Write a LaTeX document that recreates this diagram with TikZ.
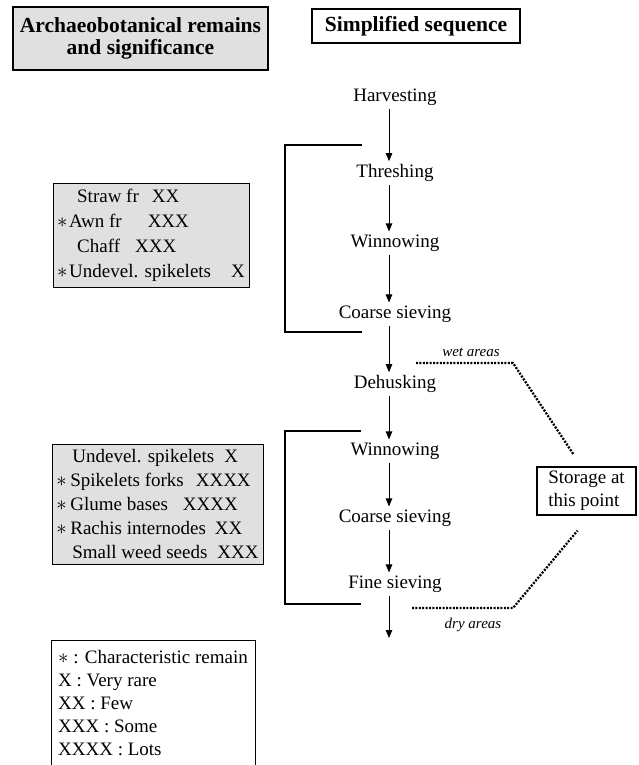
\documentclass[tikz,border=0pt]{standalone}
\usepackage{fontspec}
\setmainfont{Liberation Serif}
\usetikzlibrary{arrows.meta}
\newcommand{\remstar}{{\fontsize{21}{21}\selectfont$\ast$}}
\begin{document}
\begin{tikzpicture}[x=1pt,y=-1pt,
        headbox/.style={draw,line width=1.2pt,font=\bfseries\fontsize{21.5}{22}\selectfont,align=center,inner sep=0pt},
        stepnode/.style={font=\fontsize{19}{22}\selectfont,inner sep=3pt},
        flow/.style={line width=0.9pt,-{Triangle[length=8pt,width=6.5pt]}},
        bracket/.style={line width=1.4pt},
        remainbox/.style={draw,line width=1pt,fill=black!12,align=left,inner sep=0pt},
        areas/.style={line width=2.3pt,dash pattern=on 2pt off 1.4pt},
        arealabel/.style={font=\itshape\fontsize{15}{16}\selectfont}]
        \useasboundingbox (0,0) rectangle (639,765);
        %% headings
        \node[headbox,fill=black!12,minimum width=255pt,minimum height=63pt] (remhead) at (140.5,38.5) {Archaeobotanical remains\\and significance};
        \node[headbox,minimum width=208pt,minimum height=34pt] (seqhead) at (416,26) {Simplified sequence};
        %% sequence
        \node[stepnode] (harv) at (395,97) {Harvesting};
        \node[stepnode] (thr) at (395,173) {Threshing};
        \node[stepnode] (win1) at (395,243) {Winnowing};
        \node[stepnode] (cs1) at (395,314) {Coarse sieving};
        \node[stepnode] (dehusk) at (395,384) {Dehusking};
        \node[stepnode] (win2) at (395,451) {Winnowing};
        \node[stepnode] (cs2) at (395,518) {Coarse sieving};
        \node[stepnode] (fine) at (395,584) {Fine sieving};
        \coordinate (seqend) at (389,638);
        \foreach \a/\b in {harv/thr,thr/win1,win1/cs1,cs1/dehusk,dehusk/win2,win2/cs2,cs2/fine}
            \draw[flow] ([xshift=-6pt]\a.south) -- ([xshift=-6pt]\b.north);
        \draw[flow] ([xshift=-6pt]fine.south) -- (seqend);
        %% brackets
        \draw[bracket] (362,145) -| (285,332) -- (362,332);
        \draw[bracket] (361,431) -| (285,604) -- (361,604);
        %% remains
        \node[remainbox,minimum width=196pt,minimum height=104pt,font=\fontsize{19}{25}\selectfont] (rem1) at (151,235) {%
            \hspace*{20pt}Straw fr\hspace{13pt}XX\\
            \makebox[12pt][l]{\remstar}Awn fr\hspace{26pt}XXX\\
            \hspace*{20pt}Chaff\hspace{15pt}XXX\\
            \makebox[12pt][l]{\remstar}Undevel. spikelets\hspace{20pt}X};
        \node[remainbox,minimum width=211pt,minimum height=120pt,font=\fontsize{19}{24}\selectfont] (rem2) at (157.5,504) {%
            \hspace*{16pt}Undevel. spikelets\hspace{10pt}X\\
            \makebox[14pt][l]{\remstar}Spikelets forks\hspace{12pt}XXXX\\
            \makebox[14pt][l]{\remstar}Glume bases\hspace{15pt}XXXX\\
            \makebox[14pt][l]{\remstar}Rachis internodes\hspace{9pt}XX\\
            \hspace*{16pt}Small weed seeds\hspace{10pt}XXX};
        %% legend
        \node[remainbox,fill=white,minimum width=204pt,minimum height=126pt,font=\fontsize{19}{23}\selectfont] (legend) at (153,703) {%
            \remstar\ : Characteristic remain\\
            X : Very rare\\
            XX : Few\\
            XXX : Some\\
            XXXX : Lots};
        %% storage
        \node[draw,line width=1.2pt,align=left,inner sep=0pt,minimum width=99pt,minimum height=48pt,font=\fontsize{19}{23}\selectfont] (store) at (586.5,491) {Storage at\\this point};
        \coordinate (wetstart) at (416,363);
        \coordinate (drystart) at (412,608);
        \draw[areas] (wetstart) -- (513,363) -- ([xshift=-13pt,yshift=12pt]store.north);
        \draw[areas] (drystart) -- (513,608) -- ([xshift=-9pt,yshift=-15pt]store.south);
        \node[arealabel] (wet) at (471,352) {wet areas};
        \node[arealabel] (dry) at (473,625) {dry areas};
    \end{tikzpicture}
\end{document}
